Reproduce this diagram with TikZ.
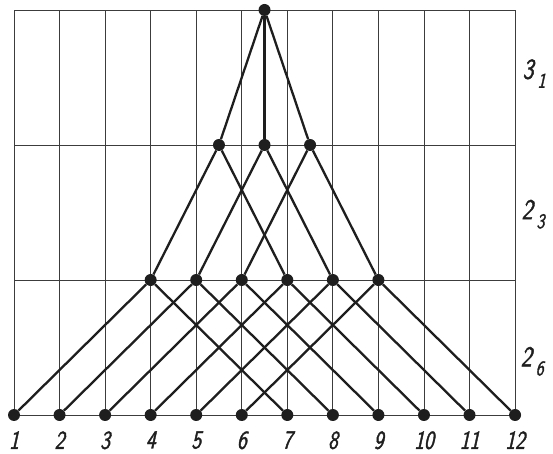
\documentclass[tikz,border=0pt]{standalone}
\usepackage{fontspec}
\usepackage{tikz}
\usetikzlibrary{positioning}
\newfontfamily\gostfont[FakeSlant=0.22, FakeStretch=0.8, FakeBold=1.4]{Latin Modern Sans}
\definecolor{ink}{HTML}{1E1E1E}
\definecolor{gridgray}{HTML}{3C3C3C}
\newcommand{\bandlbl}[2]{#1\hspace{4pt}\raisebox{-9pt}{\fontsize{21}{21}\selectfont #2}}

\begin{document}
\begin{tikzpicture}[x=45.55pt, y=135pt,
    dot/.style={circle, fill=ink, minimum size=12pt, inner sep=0pt},
    edge/.style={ink, line width=2.3pt},
    gridline/.style={gridgray, line width=0.8pt},
    num/.style={font=\gostfont\fontsize{26}{26}\selectfont, text=ink, inner sep=0pt},
    band/.style={font=\gostfont\fontsize{29}{29}\selectfont, text=ink, inner sep=0pt, anchor=base west}]
    \useasboundingbox (-14pt,-39pt) rectangle (539pt,415pt);
    % grid
    \foreach \i in {0,...,11}
        \draw[gridline] (\i,0) -- (\i,3);
    \foreach \j in {0,...,3}
        \draw[gridline] (0,\j) -- (11,\j);
    % bottom row
    \foreach \i in {1,...,12} {
        \node[dot] (b\i) at (\i-1,0) {};
        \node[num, below=10pt of b\i] (l\i) {\i};
    }
    % third row
    \node[dot] (r1) at (3,1) {};
    \node[dot] (r2) at (4,1) {};
    \node[dot] (r3) at (5,1) {};
    \node[dot] (r4) at (6,1) {};
    \node[dot] (r5) at (7,1) {};
    \node[dot] (r6) at (8,1) {};
    % second row and top
    \node[dot] (m1) at (4.5,2) {};
    \node[dot] (m2) at (5.5,2) {};
    \node[dot] (m3) at (6.5,2) {};
    \node[dot] (t) at (5.5,3) {};
    % edges
    \draw[edge] (t) -- (m1);
    \draw[edge] (t) -- (m2);
    \draw[edge] (t) -- (m3);
    \draw[edge] (m1) -- (r1);
    \draw[edge] (m1) -- (r4);
    \draw[edge] (m2) -- (r2);
    \draw[edge] (m2) -- (r5);
    \draw[edge] (m3) -- (r3);
    \draw[edge] (m3) -- (r6);
    \draw[edge] (r1) -- (b1);
    \draw[edge] (r1) -- (b7);
    \draw[edge] (r2) -- (b2);
    \draw[edge] (r2) -- (b8);
    \draw[edge] (r3) -- (b3);
    \draw[edge] (r3) -- (b9);
    \draw[edge] (r4) -- (b4);
    \draw[edge] (r4) -- (b10);
    \draw[edge] (r5) -- (b5);
    \draw[edge] (r5) -- (b11);
    \draw[edge] (r6) -- (b6);
    \draw[edge] (r6) -- (b12);
    % band labels
    \node[band] (k1) at (11.16,2.49) {\bandlbl{3}{1}};
    \node[band] (k2) at (11.14,1.45) {\bandlbl{2}{3}};
    \node[band] (k3) at (11.12,0.36) {\bandlbl{2}{6}};
\end{tikzpicture}
\end{document}
